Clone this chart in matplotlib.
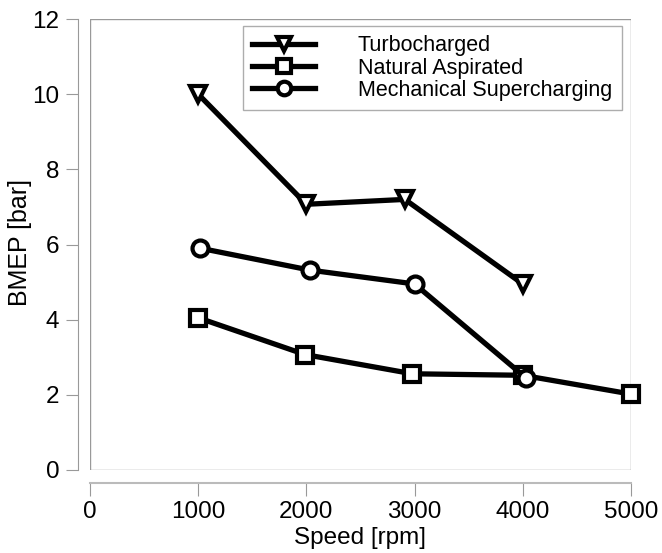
import matplotlib
matplotlib.use("Agg")
import matplotlib.pyplot as plt
from matplotlib.patches import Rectangle

plt.rcParams['font.family'] = ['Liberation Sans', 'DejaVu Sans']

# BMEP vs engine speed
turbo_rpm = [1000, 2000, 2910, 4000]
turbo_bmep = [10.0, 7.07, 7.2, 4.95]

natural_rpm = [1000, 1990, 2980, 4000, 5000]
natural_bmep = [4.05, 3.07, 2.56, 2.52, 2.02]

mech_rpm = [1020, 2030, 3000, 4030]
mech_bmep = [5.9, 5.32, 4.95, 2.45]

x_ticks = [0, 1000, 2000, 3000, 4000, 5000]
y_ticks = [0, 2, 4, 6, 8, 10, 12]

fig = plt.figure(figsize=(6.62, 5.53), dpi=100)
ax = fig.add_axes([90 / 662, 83 / 553, 541 / 662, 451 / 553])

style = dict(color='black', linewidth=3.8, markersize=11.5, markeredgewidth=3,
             markerfacecolor='white', markeredgecolor='black', clip_on=False)
ax.plot(turbo_rpm, turbo_bmep, marker='v', label='Turbocharged', **style)
ax.plot(natural_rpm, natural_bmep, marker='s', label='Natural Aspirated', **style)
ax.plot(mech_rpm, mech_bmep, marker='o', label='Mechanical Supercharging', **style)

ax.set_xlim(0, 5000)
ax.set_ylim(0, 12)
ax.set_xticks(x_ticks)
ax.set_yticks(y_ticks)

# gray frame around the plot area, spines pushed outward
ax.add_patch(Rectangle((0, 0), 1, 1, transform=ax.transAxes, fill=False,
                       edgecolor='#999999', linewidth=1.0, zorder=0))
for side in ['top', 'right']:
    ax.spines[side].set_visible(False)
ax.spines['left'].set_position(('outward', 9))
ax.spines['bottom'].set_position(('outward', 9))
ax.spines['left'].set_color('#999999')
ax.spines['bottom'].set_color('#bbbbbb')
ax.spines['bottom'].set_linewidth(1.5)
ax.tick_params(axis='both', direction='out', length=9, width=0.8, color='#999999',
               labelsize=17.5, pad=4)

ax.set_xlabel('Speed [rpm]', fontsize=17.5, va='center')
ax.set_ylabel('BMEP [bar]', fontsize=18, va='center')
ax.xaxis.set_label_coords(0.5, -0.151)
ax.yaxis.set_label_coords(-0.13, 0.505)

leg = ax.legend(loc='upper right', bbox_to_anchor=(0.983, 0.985), fontsize=15.5,
                frameon=True, fancybox=False, handlelength=2.9, handletextpad=2.0,
                labelspacing=0.05, borderpad=0.45, borderaxespad=0, markerscale=0.85)
leg.get_frame().set_edgecolor('#999999')
leg.get_frame().set_linewidth(1.0)

fig.savefig('out.png', dpi=100)
